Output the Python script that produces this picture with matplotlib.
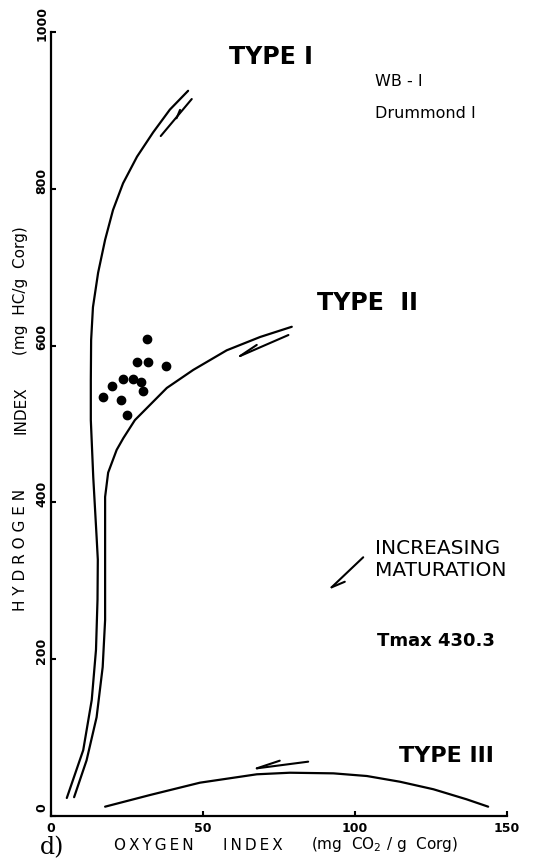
import matplotlib
matplotlib.use("Agg")
import matplotlib.pyplot as plt
import matplotlib.transforms as mtransforms

# ---- data -------------------------------------------------------------
# Rock-Eval samples, well WB-1 (Drummond 1)
sample_oi = [31.5, 28.3, 32.0, 37.8, 23.8, 27.1, 29.6, 20.0, 30.2, 17.0, 23.0, 25.1]
sample_hi = [609, 579, 579, 574, 557, 557, 553, 548, 542, 534, 531, 511]

# Kerogen evolution pathways (oxygen index, hydrogen index)
type1_oi = [5.2, 10.6, 13.4, 14.8, 15.3, 15.4, 15.0, 13.9, 13.1, 13.1, 13.2,
            13.8, 15.5, 17.8, 20.4, 23.7, 28.3, 33.6, 39.1, 45.1]
type1_hi = [23, 84, 148, 212, 276, 327, 356, 432, 505, 556, 607,
            649, 693, 735, 773, 807, 841, 872, 901, 925]

type2_oi = [7.6, 11.7, 15.0, 17.0, 17.8, 17.8, 17.8, 18.8, 21.6, 23.8, 27.6,
            38.1, 46.8, 57.8, 68.8, 79.2]
type2_hi = [24, 71, 126, 190, 250, 327, 407, 438, 467, 482, 505,
            546, 569, 594, 611, 624]

type3_oi = [17.8, 32.6, 49.0, 67.7, 78.6, 92.9, 103.9, 114.8, 125.8, 136.7, 143.8]
type3_hi = [11.9, 26.8, 42.5, 53.2, 55.2, 54.4, 51.0, 43.7, 34.1, 21.3, 11.9]

# Maturation arrows: shaft start, shaft end (tip), barb anchor, barb offset (points)
arrow_start = [(46.3, 914.5), (78.1, 613.5), (84.6, 69.3), (102.7, 330.0)]
arrow_tip = [(36.1, 867.3), (62.2, 586.7), (67.7, 60.8), (92.3, 291.7)]
barb_anchor = [(41.3, 890.0), (62.2, 586.7), (67.7, 60.8), (92.3, 291.7)]
barb_offset = [(2.5, 6.0), (12.0, 8.0), (16.5, 5.5), (9.5, 4.0)]

x_ticks = [0, 50, 100, 150]
y_ticks = [0, 200, 400, 600, 800, 1000]

# ---- figure -----------------------------------------------------------
W, H = 542, 866
fig = plt.figure(figsize=(W / 100, H / 100), dpi=100)
fig.patch.set_facecolor("white")


def fpos(px, py):
    """Pixel position -> figure fraction."""
    return px / W, 1 - py / H


ax = fig.add_axes([51 / W, 50 / H, 456 / W, 784 / H])
ax.set_xlim(0, 150)
ax.set_ylim(0, 1000)
for side in ("top", "right"):
    ax.spines[side].set_visible(False)
for side in ("left", "bottom"):
    ax.spines[side].set_linewidth(1.6)
    ax.spines[side].set_color("black")

ax.set_xticks(x_ticks)
ax.set_yticks(y_ticks)
ax.set_xticklabels([str(v) for v in x_ticks])
ax.set_yticklabels([str(v) for v in y_ticks])
ax.tick_params(direction="in", length=3.5, width=1.5, colors="black")
ax.tick_params(axis="x", pad=4, labelsize=9)
ax.tick_params(axis="y", pad=2, labelsize=9)
for lab in ax.get_xticklabels():
    lab.set_fontweight("bold")
shift_up = mtransforms.ScaledTranslation(0, 6 / 72, fig.dpi_scale_trans)
for lab in ax.get_yticklabels():
    lab.set_fontweight("bold")
    lab.set_rotation(90)
    lab.set_va("center")
    lab.set_transform(lab.get_transform() + shift_up)

line_kw = dict(color="black", lw=1.6, solid_capstyle="round")
ax.plot(type1_oi, type1_hi, **line_kw)
ax.plot(type2_oi, type2_hi, **line_kw)
ax.plot(type3_oi, type3_hi, **line_kw)

ax.plot(sample_oi, sample_hi, "o", color="black", ms=6, mec="black")

for s, t, a, off in zip(arrow_start, arrow_tip, barb_anchor, barb_offset):
    ax.plot([s[0], t[0]], [s[1], t[1]], color="black", lw=1.5,
            solid_capstyle="round")
    ax.annotate("", xy=a, xycoords="data", xytext=off,
                textcoords="offset points",
                arrowprops=dict(arrowstyle="-", color="black", lw=1.5,
                                shrinkA=0, shrinkB=0))

# ---- text ---------------------------------------------------------------
thin = "\u2009"


def spaced(word, gap=thin):
    return gap.join(word)


type_kw = dict(fontweight="bold", color="black", ha="center", va="center",
               family="DejaVu Sans")
fig.text(*fpos(271, 57), "TYPE I", fontsize=17, **type_kw)
fig.text(*fpos(367, 303), "TYPE  II", fontsize=17, **type_kw)
fig.text(*fpos(446, 756), "TYPE III", fontsize=16, **type_kw)

fig.text(*fpos(375, 82), "WB - I", fontsize=11.5, ha="left", va="center")
fig.text(*fpos(375, 113), "Drummond I", fontsize=11.5, ha="left", va="center")

fig.text(*fpos(375, 548), "INCREASING", fontsize=14.5, ha="left", va="center")
fig.text(*fpos(375, 570), "MATURATION", fontsize=14.5, ha="left", va="center")
fig.text(*fpos(436, 641), "Tmax 430.3", fontsize=13, fontweight="bold",
         ha="center", va="center")

# axis titles, letter-spaced
fig.text(*fpos(153.5, 845), spaced("OXYGEN"), fontsize=11, ha="center", va="center")
fig.text(*fpos(252.5, 845), spaced("INDEX"), fontsize=11, ha="center", va="center")
fig.text(*fpos(384, 845), "(mg  CO$_2$ / g  Corg)", fontsize=11,
         ha="center", va="center")

fig.text(*fpos(21, 550), spaced("HYDROGEN", " "), fontsize=11, rotation=90,
         ha="center", va="center")
fig.text(*fpos(21, 410), "INDEX", fontsize=11, rotation=90,
         ha="center", va="center")
fig.text(*fpos(21, 291), "(mg  HC/g  Corg)", fontsize=11, rotation=90,
         ha="center", va="center")

fig.text(*fpos(52, 848), "d)", fontsize=17, family="DejaVu Serif",
         ha="center", va="center")

fig.savefig("out.png", dpi=100, facecolor="white")
